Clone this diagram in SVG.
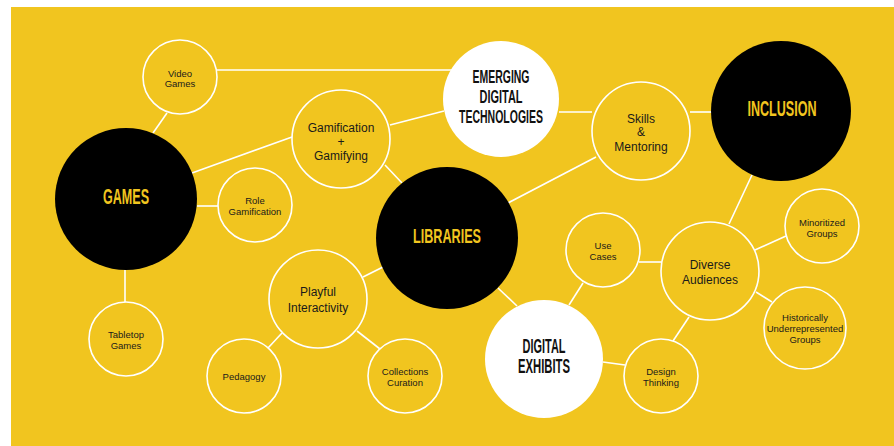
<svg xmlns="http://www.w3.org/2000/svg" width="894" height="446" viewBox="0 0 894 446">
<style>
.sm{fill:#F1C51F;stroke:#fff;stroke-width:1.6}
.blk{fill:#000}
.wht{fill:#fff}
.t{font-family:"Liberation Sans",Arial,sans-serif;fill:#1a1a1a;text-anchor:middle}
.s{font-size:9.5px}
.m{font-size:12px}
.b{font-family:"Liberation Sans",Arial,sans-serif;font-weight:bold;text-anchor:middle}
.by{fill:#F1C51F}
.bk{fill:#111}
#connectors line{stroke:#fff;stroke-width:1.6}
</style>
<rect x="0" y="0" width="894" height="446" fill="#fff"/>
<rect x="11" y="7" width="883" height="439" fill="#F1C51F"/>
<g id="connectors">
<line x1="217" y1="70" x2="452" y2="70"/>
<line x1="167" y1="113" x2="153" y2="133"/>
<line x1="192" y1="173" x2="292" y2="137"/>
<line x1="197" y1="206" x2="218" y2="206"/>
<line x1="125" y1="270" x2="125" y2="302"/>
<line x1="390" y1="125" x2="444" y2="111"/>
<line x1="385" y1="165" x2="402" y2="183"/>
<line x1="559" y1="112" x2="592" y2="112"/>
<line x1="690" y1="112" x2="712" y2="112"/>
<line x1="596" y1="157" x2="508" y2="203"/>
<line x1="383" y1="267" x2="363" y2="277"/>
<line x1="282" y1="333" x2="268" y2="348"/>
<line x1="357" y1="331" x2="380" y2="349"/>
<line x1="498" y1="288" x2="517" y2="306"/>
<line x1="569" y1="305" x2="583" y2="283"/>
<line x1="603" y1="362" x2="625" y2="365"/>
<line x1="639" y1="262" x2="661" y2="262"/>
<line x1="729" y1="224" x2="752" y2="175"/>
<line x1="755" y1="250" x2="786" y2="236"/>
<line x1="756" y1="292" x2="772" y2="302"/>
<line x1="689" y1="317" x2="673" y2="341"/>
</g>
<g id="video-games"><circle class="sm" cx="180" cy="77" r="37"/><text class="t s" x="180" y="76.5">Video</text><text class="t s" x="180" y="87">Games</text></g>
<g id="games"><circle class="blk" cx="126" cy="199" r="71"/><text class="b by" x="126" y="204" font-size="22" textLength="46" lengthAdjust="spacingAndGlyphs">GAMES</text></g>
<g id="role-gamification"><circle class="sm" cx="255" cy="205" r="37"/><text class="t s" x="255" y="204">Role</text><text class="t s" x="255" y="214.5">Gamification</text></g>
<g id="tabletop-games"><circle class="sm" cx="126" cy="339" r="37"/><text class="t s" x="126" y="338">Tabletop</text><text class="t s" x="126" y="348.5">Games</text></g>
<g id="gamification"><circle class="sm" cx="341" cy="139" r="49"/><text class="t m" x="341" y="132">Gamification</text><text class="t m" x="341" y="146">+</text><text class="t m" x="341" y="160">Gamifying</text></g>
<g id="emerging"><circle class="wht" cx="501" cy="99" r="58"/><text class="b bk" x="501" y="83" font-size="18" textLength="57" lengthAdjust="spacingAndGlyphs">EMERGING</text><text class="b bk" x="501" y="103" font-size="18" textLength="43" lengthAdjust="spacingAndGlyphs">DIGITAL</text><text class="b bk" x="501" y="123" font-size="18" textLength="84" lengthAdjust="spacingAndGlyphs">TECHNOLOGIES</text></g>
<g id="skills"><circle class="sm" cx="641" cy="131" r="49"/><text class="t m" x="641" y="122.5">Skills</text><text class="t m" x="641" y="136">&amp;</text><text class="t m" x="641" y="151">Mentoring</text></g>
<g id="inclusion"><circle class="blk" cx="781" cy="111" r="70"/><text class="b by" x="782" y="116" font-size="22" textLength="69" lengthAdjust="spacingAndGlyphs">INCLUSION</text></g>
<g id="libraries"><circle class="blk" cx="447" cy="238" r="71"/><text class="b by" x="447" y="243" font-size="21" textLength="68" lengthAdjust="spacingAndGlyphs">LIBRARIES</text></g>
<g id="playful"><circle class="sm" cx="318" cy="299" r="49"/><text class="t m" x="318" y="295.5">Playful</text><text class="t m" x="318" y="312">Interactivity</text></g>
<g id="pedagogy"><circle class="sm" cx="244" cy="376" r="37"/><text class="t s" x="244" y="380">Pedagogy</text></g>
<g id="collections"><circle class="sm" cx="405" cy="376" r="37"/><text class="t s" x="405" y="375">Collections</text><text class="t s" x="405" y="386">Curation</text></g>
<g id="digital-exhibits"><circle class="wht" cx="544" cy="359" r="59"/><text class="b bk" x="544" y="353" font-size="19.5" textLength="43" lengthAdjust="spacingAndGlyphs">DIGITAL</text><text class="b bk" x="544" y="373" font-size="19.5" textLength="52" lengthAdjust="spacingAndGlyphs">EXHIBITS</text></g>
<g id="use-cases"><circle class="sm" cx="603" cy="250" r="37"/><text class="t s" x="603" y="249">Use</text><text class="t s" x="603" y="260">Cases</text></g>
<g id="design-thinking"><circle class="sm" cx="661" cy="376" r="37"/><text class="t s" x="661" y="375">Design</text><text class="t s" x="661" y="386">Thinking</text></g>
<g id="diverse"><circle class="sm" cx="710" cy="271" r="49"/><text class="t m" x="710" y="268.5">Diverse</text><text class="t m" x="710" y="283.5">Audiences</text></g>
<g id="minoritized"><circle class="sm" cx="822" cy="226" r="37"/><text class="t s" x="822" y="226">Minoritized</text><text class="t s" x="822" y="237">Groups</text></g>
<g id="historically"><circle class="sm" cx="805" cy="328" r="41"/><text class="t s" x="805" y="321">Historically</text><text class="t s" x="805" y="332">Underrepresented</text><text class="t s" x="805" y="343">Groups</text></g>
</svg>
